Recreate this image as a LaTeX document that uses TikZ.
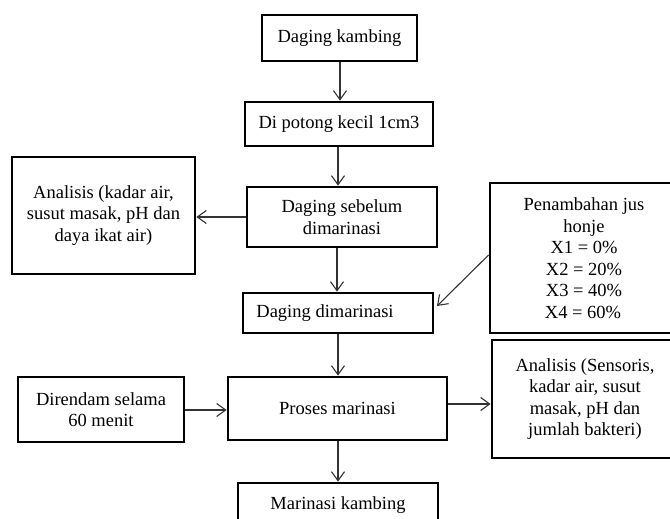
\documentclass[tikz,border=0pt]{standalone}
\usepackage{fontspec}
\setmainfont{Liberation Serif}
\usetikzlibrary{arrows.meta}
\begin{document}
\begin{tikzpicture}[x=1pt,y=-1pt,
  box/.style={draw=black,line width=2.8pt,rectangle,align=center,inner sep=2pt,
    font=\fontsize{18.5}{21.5}\selectfont},
  conn/.style={draw=black!80,line width=1.1pt,-{Straight Barb[length=9pt,width=13pt,line width=1.1pt]}}]
\clip (0,0) rectangle (670,519);
\useasboundingbox (0,0) rectangle (670,519);
\node[box,minimum width=155,minimum height=46] (kambing) at (339.5,38) {Daging kambing};
\node[box,minimum width=188,minimum height=44] (potong) at (339,124) {Di potong kecil 1cm3};
\node[box,minimum width=190,minimum height=60] (sebelum) at (342,217) {Daging sebelum\\dimarinasi};
\node[box,minimum width=183,minimum height=117] (anal1) at (103.5,215.5) {Analisis (kadar air,\\susut masak, pH dan\\daya ikat air)};
\node[box,minimum width=190,minimum height=40] (dim) at (338,313) {Daging dimarinasi\hspace*{26pt}};
\node[box,minimum width=188,minimum height=150] (jus) at (584,258) {Penambahan jus\\honje\\X1 = 0\%\hspace*{6pt}\\X2 = 20\%\hspace*{2pt}\\X3 = 40\%\hspace*{2pt}\\X4 = 60\%\hspace*{2pt}};
\node[box,minimum width=166,minimum height=65] (rendam) at (101,409.5) {Direndam selama\\60 menit};
\node[box,minimum width=219,minimum height=63] (proses) at (337.5,408.5) {Proses marinasi};
\node[box,minimum width=186,minimum height=118] (anal2) at (585,399) {Analisis (Sensoris,\\kadar air, susut\\masak, pH dan\\jumlah bakteri)};
\node[box,minimum width=200,minimum height=44] (hasil) at (338,505) {Marinasi kambing};
\coordinate (jusend) at (437,306);
\draw[conn] (kambing.south -| 340,0) -- (potong.north -| 340,0);
\draw[conn] (potong.south -| 338,0) -- (sebelum.north -| 338,0);
\draw[conn] (sebelum.west |- 0,217) -- (anal1.east |- 0,217);
\draw[conn] (sebelum.south -| 337,0) -- (dim.north -| 337,0);
\draw[conn] (jus.west |- 0,255) -- (jusend);
\draw[conn] (dim.south -| 338,0) -- (proses.north -| 338,0);
\draw[conn] (rendam.east |- 0,410) -- (proses.west |- 0,410);
\draw[conn] (proses.east |- 0,404) -- (anal2.west |- 0,404);
\draw[conn] (proses.south -| 338,0) -- (hasil.north -| 338,0);
\end{tikzpicture}
\end{document}
